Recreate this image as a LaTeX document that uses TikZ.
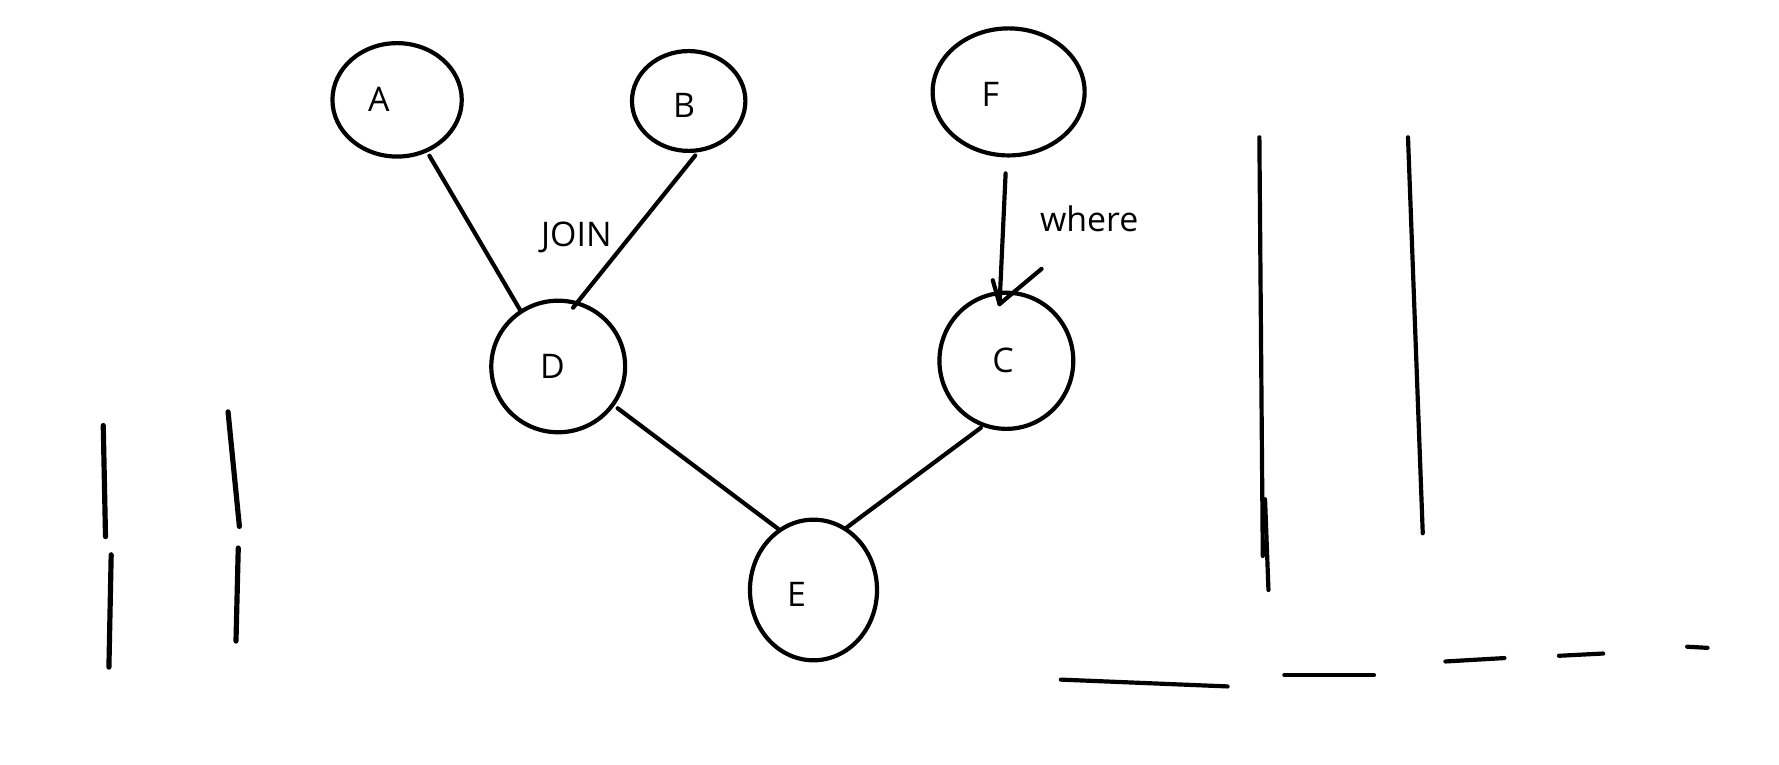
\documentclass[tikz,border=0pt]{standalone}
\usepackage{fontspec}
\setmainfont{Open Sans}
\usetikzlibrary{shapes.geometric}
\begin{document}
\begin{tikzpicture}[x=0.02cm,y=-0.02cm,
  pen/.style={line width=2.1pt,line cap=round,line join=round},
  blob/.style={ellipse,draw,line width=2.1pt,inner sep=0pt},
  lbl/.style={font=\fontsize{17}{20}\selectfont,inner sep=0pt}]
\useasboundingbox (0,0) rectangle (1568,674);
% ellipses
\node[blob,minimum width=2.28cm,minimum height=2.00cm] (A) at (350,88) {};
\node[blob,minimum width=2.00cm,minimum height=1.76cm] (B) at (607,89) {};
\node[blob,minimum width=2.68cm,minimum height=2.24cm] (F) at (889,81) {};
\node[blob,minimum width=2.36cm,minimum height=2.32cm] (D) at (492,323) {};
\node[blob,minimum width=2.36cm,minimum height=2.40cm] (C) at (887,318) {};
\node[blob,minimum width=2.24cm,minimum height=2.48cm] (E) at (717,520) {};
% labels
\node[lbl] (la) at (334,88) {A};
\node[lbl] (lb) at (603,93) {B};
\node[lbl] (lf) at (873,83) {F};
\node[lbl] (ld) at (487,323) {D};
\node[lbl] (lc) at (884,318) {C};
\node[lbl] (le) at (702,524) {E};
\node[lbl] (join) at (508,209) {JOIN};
\node[lbl] (where) at (960,193) {where};
% connectors
\draw[pen,shorten <=2pt] (A.-60) -- (D.124);
\draw[pen,shorten <=2pt,shorten >=-4pt] (B.-80) -- (D.73);
\draw[pen,shorten <=2pt] (D.-35) -- (E.120);
\draw[pen,shorten <=1pt] (C.-110) -- (E.62);
\coordinate (Ct) at (881,268);
\draw[pen,shorten <=0.28cm] (F.-92) -- (Ct);
\draw[pen] (Ct) -- ++(37,-31);
\draw[pen] (Ct) -- ++(-6,-21);
% scribbles left
\draw[pen,line width=2.6pt] (91,375) -- (93,473);
\draw[pen,line width=2.6pt] (98,489) -- (96,588);
\draw[pen,line width=2.6pt] (201,363) -- (211,464);
\draw[pen,line width=2.6pt] (210,483) -- (208,565);
% scribbles right
\draw[pen] (1110,121) -- (1113,490);
\draw[pen] (1115,440) -- (1118,520);
\draw[pen] (1241,121) -- (1254,470);
% bottom dashes
\draw[pen] (935,599) -- (1082,605);
\draw[pen] (1132,595) -- (1211,595);
\draw[pen] (1274,583) -- (1326,580);
\draw[pen] (1374,578) -- (1413,576);
\draw[pen] (1487,570) -- (1505,571);
\end{tikzpicture}
\end{document}
